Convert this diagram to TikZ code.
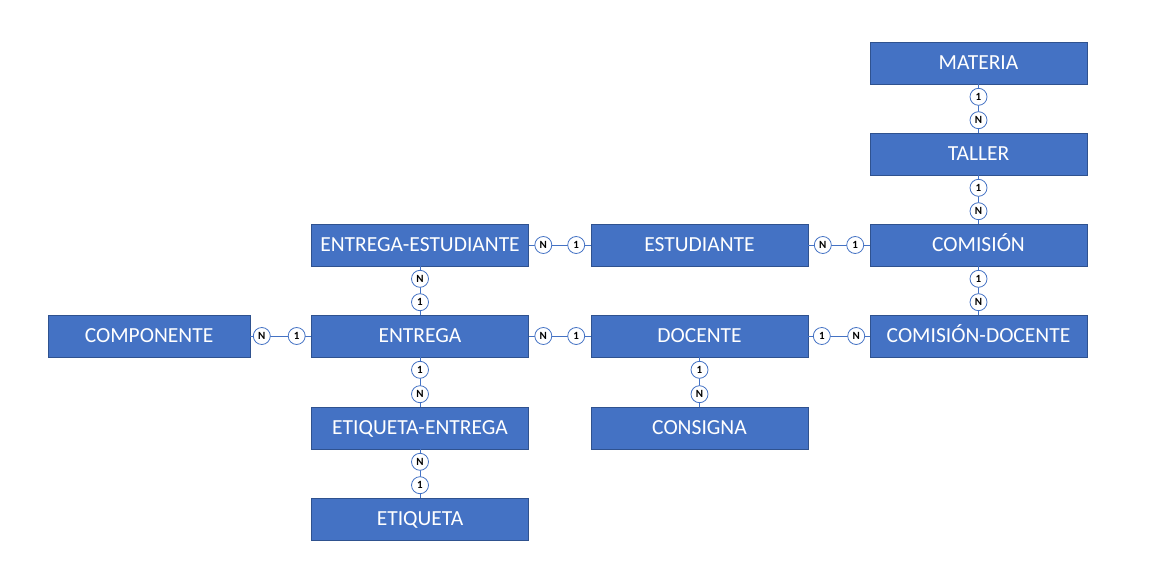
\documentclass[tikz,border=0pt]{standalone}
\usepackage{fontspec}
\setmainfont{Carlito}
\usepackage{tikz}
\definecolor{erfill}{RGB}{68,114,196}
\definecolor{erdraw}{RGB}{47,82,143}
\usetikzlibrary{positioning}

\begin{document}
\begin{tikzpicture}[x=1pt,y=-1pt,
  entidad/.style={draw=erdraw,fill=erfill,line width=0.8pt,minimum width=217pt,minimum height=42pt,
    inner sep=0pt,text=white,text height=14pt,text depth=1pt,font=\fontsize{21.5}{24}\selectfont},
  card/.style={circle,draw=erfill,fill=white,line width=0.8pt,minimum size=17pt,inner sep=0pt,
    font=\fontsize{11}{12}\selectfont\bfseries},
  rel/.style={draw=erfill,line width=0.9pt}
]
  \useasboundingbox (0,0) rectangle (1153,580);
  % entidades
  \node[entidad] (mat) at (978.5,63) {MATERIA};
  \node[entidad] (tal) at (978.5,154) {TALLER};
  \node[entidad] (com) at (978.5,245) {COMISIÓN};
  \node[entidad] (cdo) at (978.5,336) {COMISIÓN-DOCENTE};
  \node[entidad] (est) at (699.5,245) {ESTUDIANTE};
  \node[entidad] (doc) at (699.5,336) {DOCENTE};
  \node[entidad] (csg) at (699.5,428) {CONSIGNA};
  \node[entidad] (ees) at (420,245) {ENTREGA-ESTUDIANTE};
  \node[entidad] (ent) at (420,336) {ENTREGA};
  \node[entidad] (eet) at (420,428) {ETIQUETA-ENTREGA};
  \node[entidad] (eti) at (420,519) {ETIQUETA};
  \node[entidad,minimum width=202pt] (cmp) at (149,336) {COMPONENTE};
  % relaciones
  \draw[rel] (mat) -- (tal);
  \draw[rel] (tal) -- (com);
  \draw[rel] (com) -- (cdo);
  \draw[rel] (ees) -- (est);
  \draw[rel] (est) -- (com);
  \draw[rel] (ees) -- (ent);
  \draw[rel] (cmp) -- (ent);
  \draw[rel] (ent) -- (doc);
  \draw[rel] (doc) -- (cdo);
  \draw[rel] (doc) -- (csg);
  \draw[rel] (ent) -- (eet);
  \draw[rel] (eet) -- (eti);
  % cardinalidades
  \node[card,below=3.5pt of mat.south] (c1) {1};
  \node[card,above=3.5pt of tal.north] (c2) {N};
  \node[card,below=3.5pt of tal.south] (c3) {1};
  \node[card,above=3.5pt of com.north] (c4) {N};
  \node[card,below=3.5pt of com.south] (c5) {1};
  \node[card,above=3.5pt of cdo.north] (c6) {N};
  \node[card,right=5.5pt of ees.east] (c7) {N};
  \node[card,left=5.5pt of est.west] (c8) {1};
  \node[card,right=5.5pt of est.east] (c9) {N};
  \node[card,left=5.5pt of com.west] (c10) {1};
  \node[card,below=3.5pt of ees.south] (c11) {N};
  \node[card,above=3.5pt of ent.north] (c12) {1};
  \node[card,right=2.5pt of cmp.east] (c13) {N};
  \node[card,left=5.5pt of ent.west] (c14) {1};
  \node[card,right=5.5pt of ent.east] (c15) {N};
  \node[card,left=5.5pt of doc.west] (c16) {1};
  \node[card,right=4.5pt of doc.east] (c17) {1};
  \node[card,left=4.5pt of cdo.west] (c18) {N};
  \node[card,below=3.5pt of doc.south] (c19) {1};
  \node[card,above=3.5pt of csg.north] (c20) {N};
  \node[card,below=3.5pt of ent.south] (c21) {1};
  \node[card,above=3.5pt of eet.north] (c22) {N};
  \node[card,below=3.5pt of eet.south] (c23) {N};
  \node[card,above=3.5pt of eti.north] (c24) {1};
\end{tikzpicture}
\end{document}
